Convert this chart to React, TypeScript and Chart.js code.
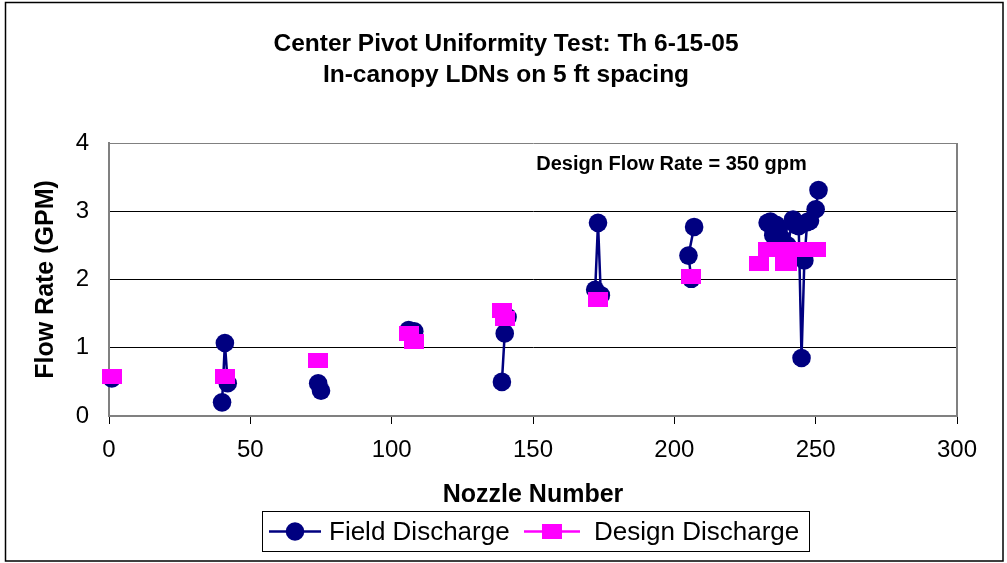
import React, { useEffect, useRef } from 'react';
import { Chart, registerables } from 'chart.js';

Chart.register(...registerables);

const TITLE_LINES = ['Center Pivot Uniformity Test: Th 6-15-05', 'In-canopy LDNs on 5 ft spacing'];
const X_TITLE = 'Nozzle Number';
const Y_TITLE = 'Flow Rate (GPM)';
const NOTE_TEXT = 'Design Flow Rate = 350 gpm';
const NOTE_POS = [199, 3.68];
const SERIES_NAMES = ['Field Discharge', 'Design Discharge'];

// null flow values separate the test groups (no connecting line)
const fieldNozzle = [1, 20, 40, 41, 42, 60, 74, 75, 90, 106, 108, 120, 139, 140, 141, 155, 172, 173, 174, 190, 206, 205, 207, 220,
  233, 234, 235, 236, 237, 238, 240, 242, 243, 244, 245, 246, 247, 248, 250, 251];
const fieldFlow = [0.55, null, 0.2, 1.07, 0.48, null, 0.48, 0.37, null, 1.26, 1.24, null, 0.5, 1.21, 1.45, null, 1.85, 2.83, 1.77, null, 2.01, 2.35, 2.77, null,
  2.83, 2.85, 2.65, 2.8, 2.75, 2.6, 2.5, 2.88, 2.8, 2.78, 0.85, 2.28, 2.84, 2.86, 3.03, 3.31];

const designNozzle = [1, 20, 41, 60, 74, 90, 106, 108, 120, 139, 140, 155, 173, 190, 206, 220,
  230, 233, 235, 237, 239, 240, 241, 243, 245, 247, 249, 250];
const designFlow = [0.58, null, 0.58, null, 0.82, null, 1.21, 1.09, null, 1.55, 1.43, null, 1.71, null, 2.05, null,
  2.23, 2.44, 2.44, 2.44, 2.23, 2.23, 2.44, 2.44, 2.44, 2.44, 2.44, 2.44];

const X_MIN = 0, X_MAX = 300, X_STEP = 50;
const Y_MIN = 0, Y_MAX = 4, Y_STEP = 1;

const FIELD_COLOR = '#000080';
const DESIGN_COLOR = '#FF00FF';
const FONT = "'Liberation Sans', Arial, sans-serif";

function rectMarker(w: number, h: number, color: string) {
  const c = document.createElement('canvas');
  c.width = w;
  c.height = h;
  const g = c.getContext('2d')!;
  g.fillStyle = color;
  g.fillRect(0, 0, w, h);
  return c;
}

export default function App() {
  const ref = useRef<HTMLCanvasElement>(null);

  useEffect(() => {
    document.body.style.margin = '0';
    const canvas = ref.current!;
    const square = rectMarker(20, 15, DESIGN_COLOR);

    const decor = {
      id: 'decor',
      beforeDraw(chart: any) {
        const { ctx } = chart;
        ctx.save();
        ctx.fillStyle = '#fff';
        ctx.fillRect(0, 0, chart.width, chart.height);
        ctx.restore();
      },
      beforeDatasetsDraw(chart: any) {
        const { ctx, chartArea: a } = chart;
        ctx.save();
        ctx.strokeStyle = '#808080';
        ctx.lineWidth = 2;
        ctx.beginPath();
        ctx.moveTo(a.right, a.top);
        ctx.lineTo(a.right, a.bottom);
        ctx.stroke();
        ctx.restore();
      },
      afterDraw(chart: any) {
        const { ctx } = chart;
        const xs = chart.scales.x, ys = chart.scales.y;
        ctx.save();
        // title
        ctx.fillStyle = '#000';
        ctx.font = `bold 24.5px ${FONT}`;
        ctx.textAlign = 'center';
        ctx.textBaseline = 'middle';
        TITLE_LINES.forEach((t, i) => ctx.fillText(t, 506, 44 + i * 31));

        // annotation
        ctx.font = `bold 20px ${FONT}`;
        ctx.fillText(NOTE_TEXT, xs.getPixelForValue(NOTE_POS[0]), ys.getPixelForValue(NOTE_POS[1]));

        // legend
        const lx = 262.5, ly = 511.5, lw = 547, lh = 40;
        ctx.strokeStyle = '#000';
        ctx.lineWidth = 1;
        ctx.strokeRect(lx, ly, lw, lh);
        const cy = 531.5;
        ctx.font = `26px ${FONT}`;
        ctx.textAlign = 'left';
        // field
        ctx.strokeStyle = FIELD_COLOR;
        ctx.lineWidth = 2.5;
        ctx.beginPath();
        ctx.moveTo(269, cy);
        ctx.lineTo(321, cy);
        ctx.stroke();
        ctx.fillStyle = FIELD_COLOR;
        ctx.beginPath();
        ctx.arc(295, cy, 9.3, 0, Math.PI * 2);
        ctx.fill();
        ctx.fillStyle = '#000';
        ctx.fillText(SERIES_NAMES[0], 329, cy + 1);
        // design
        ctx.strokeStyle = DESIGN_COLOR;
        ctx.beginPath();
        ctx.moveTo(524, cy);
        ctx.lineTo(580, cy);
        ctx.stroke();
        ctx.fillStyle = DESIGN_COLOR;
        ctx.fillRect(552 - 10, cy - 7.5, 20, 15);
        ctx.fillStyle = '#000';
        ctx.fillText(SERIES_NAMES[1], 594, cy + 1);

        // outer border
        ctx.strokeStyle = '#000';
        ctx.lineWidth = 1.5;
        ctx.strokeRect(5.5, 2.5, 997.5, 558.5);
        ctx.restore();
      },
    };

    const chart = new Chart(canvas, {
      type: 'line',
      data: {
        datasets: [
          {
            label: SERIES_NAMES[0],
            data: fieldNozzle.map((x, i) => ({ x, y: fieldFlow[i] })),
            borderColor: FIELD_COLOR,
            backgroundColor: FIELD_COLOR,
            borderWidth: 2.5,
            pointStyle: 'circle',
            pointRadius: 9.3,
            pointBorderWidth: 0,
            pointBackgroundColor: FIELD_COLOR,
            spanGaps: false,
            clip: false as any,
            order: 2,
          },
          {
            label: SERIES_NAMES[1],
            data: designNozzle.map((x, i) => ({ x, y: designFlow[i] })),
            borderColor: DESIGN_COLOR,
            backgroundColor: DESIGN_COLOR,
            borderWidth: 2.5,
            pointStyle: square as any,
            pointRadius: 10,
            spanGaps: false,
            clip: false as any,
            order: 1,
          },
        ] as any,
      },
      options: {
        responsive: false,
        animation: false,
        devicePixelRatio: 1,
        layout: { padding: { left: 0, right: 50, top: 143, bottom: 0 } },
        font: { family: FONT },
        plugins: {
          legend: { display: false },
          tooltip: { enabled: false },
          title: { display: false },
        },
        scales: {
          x: {
            type: 'linear',
            min: X_MIN,
            max: X_MAX,
            afterFit(scale: any) { scale.height = 147; },
            ticks: {
              stepSize: X_STEP,
              color: '#000',
              font: { family: FONT, size: 24 },
              padding: 12,
              maxRotation: 0,
            },
            grid: { drawOnChartArea: false, drawTicks: true, tickLength: 8, color: '#000' },
            border: { display: true, color: '#808080', width: 2 },
            title: {
              display: true,
              text: X_TITLE,
              color: '#000',
              font: { family: FONT, size: 25, weight: 'bold' },
              padding: { top: 0, bottom: 53 },
            },
          },
          y: {
            type: 'linear',
            min: Y_MIN,
            max: Y_MAX,
            afterFit(scale: any) { scale.width = 109; },
            ticks: {
              stepSize: Y_STEP,
              color: '#000',
              font: { family: FONT, size: 24 },
              padding: 20,
            },
            grid: {
              drawTicks: false,
              lineWidth: 1,
              color: (c: any) => (c.tick && c.tick.value === Y_MAX ? '#808080' : c.tick && c.tick.value === Y_MIN ? 'rgba(0,0,0,0)' : '#000'),
            },
            border: { display: true, color: '#808080', width: 2 },
            title: {
              display: true,
              text: Y_TITLE,
              color: '#000',
              font: { family: FONT, size: 25, weight: 'bold' },
              padding: { top: 31, bottom: 0 },
            },
          },
        },
      } as any,
      plugins: [decor],
    });

    return () => chart.destroy();
  }, []);

  return (
    <div style={{ width: 1007, height: 563 }}>
      <canvas ref={ref} width={1007} height={563} style={{ display: 'block', width: 1007, height: 563 }} />
    </div>
  );
}
